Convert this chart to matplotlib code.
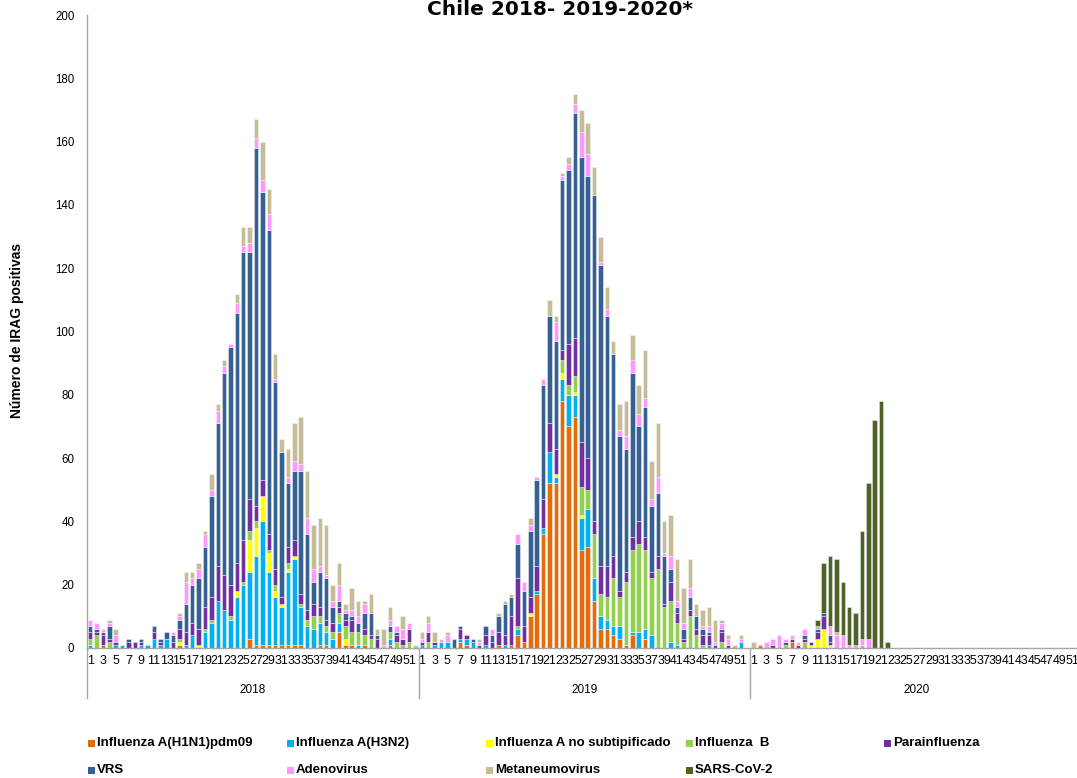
import numpy as np
import matplotlib
matplotlib.use("Agg")
import matplotlib.pyplot as plt
from matplotlib.patches import Rectangle
from matplotlib.transforms import blended_transform_factory

plt.rcParams["font.family"] = ["Liberation Sans", "DejaVu Sans"]

years = ["2018", "2019", "2020"]
weeks = list(range(1, 53))

# Weekly positive IRAG cases by agent, epidemiological weeks 1-52 per year
h1n1_2018 = [0,0,1,0,0,0,0,0,0,0, 0,0,0,0,1,0,0,0,0,0, 0,0,0,0,0,3,1,1,1,1,
             1,1,1,1,0,0,1,1,0,5, 1,1,0,1,0,0,0,1,0,0, 0,0]
h1n1_2019 = [0,0,0,0,0,0,2,1,0,0, 0,0,1,0,1,4,2,10,17,36, 52,52,78,70,73,31,32,15,6,6,
             4,3,1,4,0,3,0,0,0,0, 0,0,0,0,0,0,0,0,0,0, 0,0]
h1n1_2020 = [0,1,0,0,0,0,2,0,0,0, 0,0,0,0,0,0,0,0,0,0, 0,0,0,0,0,0,0,0,0,0,
             0,0,0,0,0,0,0,0,0,0, 0,0,0,0,0,0,0,0,0,0, 0,0]

h3n2_2018 = [1,0,0,0,1,1,0,0,1,1, 3,1,3,0,0,1,4,0,5,8, 15,12,9,16,20,21,28,39,23,15,
             12,23,27,12,7,6,7,4,3,3, 0,0,1,0,0,0,0,2,0,0, 0,0]
h3n2_2019 = [1,0,1,2,2,0,1,2,2,0, 1,0,0,1,0,2,0,0,1,2, 10,2,7,10,7,10,12,7,4,3,
             3,4,0,1,5,3,4,0,0,2, 1,0,0,0,0,1,0,0,0,0, 2,0]
h3n2_2020 = [0] * 52

a_nosub_2018 = [0,0,0,0,0,0,0,0,0,0, 0,0,0,0,1,0,0,1,0,0, 0,0,0,2,0,10,9,8,6,2,
                1,1,1,0,0,0,0,0,0,0, 2,0,0,0,0,0,0,0,0,0, 0,0]
a_nosub_2019 = [0,0,0,0,0,0,0,0,0,0, 0,0,0,0,0,0,0,1,0,0, 0,1,2,0,1,1,0,0,0,0,
                0,0,0,0,0,0,0,0,0,0, 0,0,0,0,0,0,0,0,0,0, 0,0]
a_nosub_2020 = [0,0,0,0,0,0,0,0,0,1, 3,6,1,0,0,0,0,0,0,0, 0,0,0,0,0,0,0,0,0,0,
                0,0,0,0,0,0,0,0,0,0, 0,0,0,0,0,0,0,0,0,0, 0,0]

flu_b_2018 = [2,4,0,2,0,0,0,0,0,0, 0,0,0,0,1,0,0,0,1,1, 0,0,1,0,1,3,2,0,1,2,
              0,2,0,1,2,4,2,2,2,3, 4,4,4,3,3,0,0,2,2,1, 2,0]
flu_b_2019 = [0,2,0,0,0,0,0,0,0,0, 0,0,0,0,0,1,0,0,0,0, 0,0,4,3,5,9,6,14,7,7,
              15,9,20,26,28,25,18,25,13,13, 7,2,10,4,1,0,0,2,0,0, 0,0]
flu_b_2020 = [0,0,0,0,0,1,0,0,2,0, 0,0,0,0,0,0,0,1,0,0, 0,0,0,0,0,0,0,0,0,0,
              0,0,0,0,0,0,0,0,0,0, 0,0,0,0,0,0,0,0,0,0, 0,0]

para_2018 = [2,1,3,1,1,0,2,2,1,0, 2,1,0,2,3,4,4,5,7,7, 11,11,10,9,13,10,5,5,5,5,
             2,5,5,3,3,4,3,2,3,2, 2,4,0,2,1,3,0,0,2,2, 4,0]
para_2019 = [1,3,1,0,0,0,3,1,0,0, 3,2,4,3,9,15,5,5,8,9, 9,8,3,13,12,14,10,4,9,10,
             7,2,3,4,7,4,2,4,1,6, 3,1,2,2,3,3,0,3,1,0, 0,0]
para_2020 = [0,0,0,1,0,0,1,1,1,1, 2,4,1,0,0,0,0,0,0,0, 0,0,0,0,0,0,0,0,0,0,
             0,0,0,0,0,0,0,0,0,0, 0,0,0,0,0,0,0,0,0,0, 0,0]

vrs_2018 = [2,1,1,4,0,0,1,0,1,0, 2,1,2,2,3,9,12,16,19,32, 45,64,75,79,91,78,113,91,96,59,
            46,20,22,39,24,7,11,13,5,2, 2,1,3,5,7,1,0,2,1,0, 0,0]
vrs_2019 = [0,0,0,0,0,3,1,0,1,1, 3,2,5,10,6,11,11,21,27,36, 34,34,54,55,71,90,89,103,95,79,
            64,49,39,52,30,41,21,20,15,4, 2,3,4,4,2,1,1,1,0,0, 0,0]
vrs_2020 = [0,0,0,0,0,1,0,0,1,0, 1,1,2,0,0,0,0,0,0,0, 0,0,0,0,0,0,0,0,0,0,
            0,0,0,0,0,0,0,0,0,0, 0,0,0,0,0,0,0,0,0,0, 0,0]

adeno_2018 = [2,2,1,1,2,0,0,0,0,0, 0,0,0,1,1,7,2,3,4,2, 4,2,1,3,2,3,3,4,5,1,
              0,2,3,2,5,4,2,1,2,5, 1,2,2,3,0,0,1,2,2,3, 2,0]
adeno_2019 = [1,3,0,1,2,0,0,0,0,1, 0,2,0,0,0,3,3,2,1,2, 0,6,1,2,3,8,7,0,1,2,
              0,2,4,4,4,3,2,5,1,4, 2,2,3,0,1,2,1,2,2,0, 1,0]
adeno_2020 = [0,0,2,2,4,1,1,1,2,0, 0,0,3,4,4,1,1,2,3,0, 0,0,0,0,0,0,0,0,0,0,
              0,0,0,0,0,0,0,0,0,0, 0,0,0,0,0,0,0,0,0,0, 0,0]

metap_2018 = [0,0,0,1,2,0,0,0,0,0, 0,0,0,0,1,3,2,2,1,5, 2,2,0,3,6,5,6,12,8,8,
              4,9,12,15,15,14,15,16,5,7, 2,7,5,1,6,2,5,4,0,4, 0,1]
metap_2019 = [2,2,3,0,1,0,0,0,0,1, 0,0,1,1,1,0,0,2,0,0, 5,2,1,2,3,7,10,9,8,7,
              4,8,11,8,9,15,12,17,10,13, 13,11,9,4,5,6,7,1,1,1, 1,0]
metap_2020 = [2,0,0,0,0,0,0,0,0,0, 1,0,0,1,0,0,0,0,0,0, 0,0,0,0,0,0,0,0,0,0,
              0,0,0,0,0,0,0,0,0,0, 0,0,0,0,0,0,0,0,0,0, 0,0]

sars_2018 = [0] * 52
sars_2019 = [0] * 52
sars_2020 = [0,0,0,0,0,0,0,0,0,0, 2,16,22,23,17,12,10,34,49,72, 78,2,0,0,0,0,0,0,0,0,
             0,0,0,0,0,0,0,0,0,0, 0,0,0,0,0,0,0,0,0,0, 0,0]

series_names = ["Influenza A(H1N1)pdm09", "Influenza A(H3N2)",
                "Influenza A no subtipificado", "Influenza  B", "Parainfluenza",
                "VRS", "Adenovirus", "Metaneumovirus", "SARS-CoV-2"]
series_values = [
    h1n1_2018 + h1n1_2019 + h1n1_2020,
    h3n2_2018 + h3n2_2019 + h3n2_2020,
    a_nosub_2018 + a_nosub_2019 + a_nosub_2020,
    flu_b_2018 + flu_b_2019 + flu_b_2020,
    para_2018 + para_2019 + para_2020,
    vrs_2018 + vrs_2019 + vrs_2020,
    adeno_2018 + adeno_2019 + adeno_2020,
    metap_2018 + metap_2019 + metap_2020,
    sars_2018 + sars_2019 + sars_2020,
]
series_colors = ["#E46C0A", "#00B0F0", "#FFFF00", "#92D050", "#7030A0",
                 "#376092", "#FF99FF", "#C4BD97", "#4F6228"]

W, H = 1077, 778
fig = plt.figure(figsize=(W / 100, H / 100), dpi=100)
fig.patch.set_facecolor("white")

ax = fig.add_axes([87 / W, 130 / H, (1082 - 87) / W, 633 / H])

n_weeks = len(weeks)
x = np.arange(len(years) * n_weeks)
bottom = np.zeros(len(x))
for name, vals, col in zip(series_names, series_values, series_colors):
    v = np.asarray(vals, dtype=float)
    nz = v > 0
    ax.bar(x[nz], v[nz], width=0.7, bottom=bottom[nz], color=col,
           edgecolor=(1, 1, 1, 0.7), linewidth=0.4, label=name)
    bottom += v

ax.set_xlim(-0.5, len(x) - 0.5)
ax.set_ylim(0, 200)
ax.set_yticks(np.arange(0, 201, 20))
ax.tick_params(axis="y", length=0, pad=9, labelsize=8.3, labelcolor="#000000")

tick_pos = [k * n_weeks + w - 1 for k in range(len(years)) for w in weeks if w % 2 == 1]
tick_lab = [str(w) for k in range(len(years)) for w in weeks if w % 2 == 1]
ax.set_xticks(tick_pos)
ax.set_xticklabels(tick_lab)
ax.tick_params(axis="x", length=0, pad=5, labelsize=8.9)

for side in ("top", "right"):
    ax.spines[side].set_visible(False)
for side in ("left", "bottom"):
    ax.spines[side].set_color("#A6A6A6")
    ax.spines[side].set_linewidth(1.0)

# Year grouping under the week labels
trans = blended_transform_factory(ax.transData, ax.transAxes)
sep_depth = -(698 - 648) / 633
for k in range(len(years) + 1):
    xs = k * n_weeks - 0.5
    if xs > len(x) - 0.5:
        continue
    ax.plot([xs, xs], [0, sep_depth], color="#A6A6A6", lw=1.0,
            transform=trans, clip_on=False)
for k, yr in enumerate(years):
    ax.text(k * n_weeks + (n_weeks - 1) / 2, -(690 - 648) / 633, yr,
            transform=trans, ha="center", va="center", fontsize=8.5)

fig.text(560 / W, 1 - 15 / H, "Chile 2018- 2019-2020*", ha="center",
         va="baseline", fontsize=14.5, fontweight="bold", family="DejaVu Sans")
fig.text(17 / W, 1 - 330 / H, "Número de IRAG positivas", rotation=90,
         ha="center", va="center", fontsize=10, fontweight="bold")

# Legend laid out in five equal-width columns
col_x = [88, 287, 486, 686, 884]
row_y = [743, 770]
slots = [(0, 0), (0, 1), (0, 2), (0, 3), (0, 4),
         (1, 0), (1, 1), (1, 2), (1, 3)]
sq = 7
for (r, c), name, col in zip(slots, series_names, series_colors):
    x0, y0 = col_x[c], row_y[r]
    fig.patches.append(Rectangle((x0 / W, 1 - (y0 + sq / 2) / H), sq / W, sq / H,
                                 transform=fig.transFigure, facecolor=col,
                                 edgecolor="none"))
    fig.text((x0 + sq + 2) / W, 1 - y0 / H, name, ha="left", va="center",
             fontsize=9.5, fontweight="bold")

fig.savefig("out.png", dpi=100)
